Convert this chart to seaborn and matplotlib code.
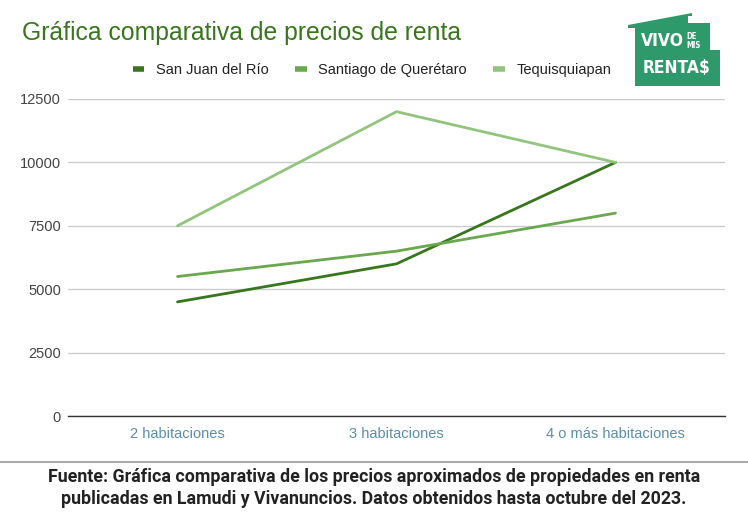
import matplotlib
matplotlib.use("Agg")
import matplotlib.pyplot as plt
import seaborn as sns
import pandas as pd
from matplotlib.patches import Polygon
from matplotlib.lines import Line2D

categories = ["2 habitaciones", "3 habitaciones", "4 o más habitaciones"]
san_juan = [4500, 6000, 10000]
santiago = [5500, 6500, 8000]
tequis = [7500, 12000, 10000]
series_names = ["San Juan del Río", "Santiago de Querétaro", "Tequisquiapan"]
yticks = [0, 2500, 5000, 7500, 10000, 12500]
colors = ["#38761d", "#6aa84f", "#93c47d"]

rows = []
for name, vals in zip(series_names, [san_juan, santiago, tequis]):
    for c, v in zip(categories, vals):
        rows.append({"cat": c, "serie": name, "precio": v})
df = pd.DataFrame(rows)

sns.set_theme(style="white")
plt.rcParams['font.family'] = ['Liberation Sans', 'DejaVu Sans']

W, H = 748, 515
fig = plt.figure(figsize=(W/100, H/100), dpi=100)
ax = fig.add_axes([68/W, 1-416/H, (725-68)/W, (416-99)/H])

sns.lineplot(data=df, x="cat", y="precio", hue="serie", palette=colors,
             hue_order=series_names, ax=ax, linewidth=2, legend=False, sort=False)

ax.set_xlim(-0.5, 2.5)
ax.set_ylim(0, 12500)
ax.set_yticks(yticks)
ax.set_yticklabels([str(t) for t in yticks], fontsize=10.5, color="#444444")
ax.set_xticks(range(len(categories)))
ax.set_xticklabels(categories, fontsize=10.5, color="#5b8fa8")
ax.tick_params(axis="y", length=0, pad=5)
ax.tick_params(axis="x", length=0, pad=8)
ax.set_xlabel("")
ax.set_ylabel("")
ax.grid(axis="y", color="#cccccc", linewidth=1)
ax.set_axisbelow(True)
for s in ["top", "right", "left"]:
    ax.spines[s].set_visible(False)
ax.spines["bottom"].set_color("#333333")
ax.spines["bottom"].set_linewidth(1)

fig.text(22/W, 1-33/H, "Gráfica comparativa de precios de renta",
         fontsize=17.8, color="#38761d", va="center", ha="left")

handles = [Line2D([0], [0], color=c, linewidth=4, solid_capstyle="butt") for c in colors]
fig.legend(handles, series_names, loc="center", bbox_to_anchor=(372/W, 1-70/H),
           ncol=3, frameon=False, fontsize=10.5, handlelength=0.8, columnspacing=1.8,
           handletextpad=0.8, labelcolor="#222222")

# logo (house shape)
pts = [(628, 25), (692, 13), (692, 16), (688, 16), (688, 23), (710, 23),
       (710, 50), (720, 50), (720, 86), (635, 86), (635, 28), (628, 28)]
logo = Polygon([(x/W, 1-y/H) for x, y in pts], closed=True, transform=fig.transFigure,
               facecolor="#2e9a6c", edgecolor="none")
fig.add_artist(logo)
logo_font = ['DejaVu Sans']
fig.text(662/W, 1-41/H, "VIVO", fontsize=12.5, color="white", family=logo_font,
         fontstretch="condensed", fontweight="bold", ha="center", va="center")
fig.text(686/W, 1-41/H, "DE\nMIS", fontsize=5.5, color="white", family=logo_font,
         fontstretch="condensed", fontweight="bold", ha="left", va="center",
         linespacing=1.0)
fig.text(676/W, 1-68/H, "RENTA$", fontsize=12.5, color="white", family=logo_font,
         fontstretch="condensed", fontweight="bold", ha="center", va="center")

# footer separator and caption
fig.add_artist(Line2D([0, 1], [1-462/H, 1-462/H], transform=fig.transFigure,
                      color="#aaaaaa", linewidth=1.5))
fig.text(0.5, 1-488/H,
         "Fuente: Gráfica comparativa de los precios aproximados de propiedades en renta\n"
         "publicadas en Lamudi y Vivanuncios. Datos obtenidos hasta octubre del 2023.",
         ha="center", va="center", fontsize=12.8, fontweight="bold", color="#222222",
         family=['Roboto', 'DejaVu Sans'], linespacing=1.3)

fig.savefig("out.png", dpi=100, facecolor="white")
